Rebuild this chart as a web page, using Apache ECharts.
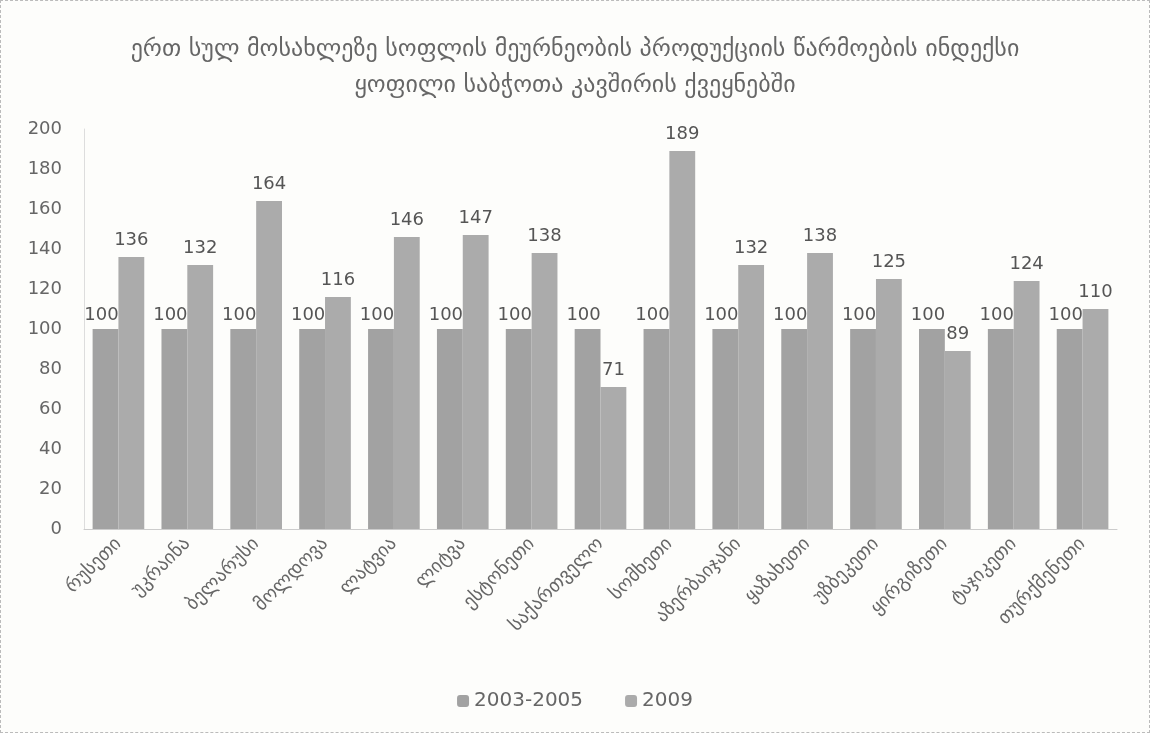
<!DOCTYPE html>
<html>
<head>
<meta charset="utf-8">
<script src="https://cdn.jsdelivr.net/npm/echarts@6/dist/echarts.min.js"></script>
<style>
  html, body { margin: 0; padding: 0; background: #fdfdfb; }
  #chart { width: 1150px; height: 733px; box-sizing: border-box; border: 1px dashed #bbb; }
</style>
</head>
<body>
<div id="chart"></div>
<script>
const countries = ['რუსეთი', 'უკრაინა', 'ბელარუსი', 'მოლდოვა', 'ლატვია', 'ლიტვა', 'ესტონეთი',
  'საქართველო', 'სომხეთი', 'აზერბაიჯანი', 'ყაზახეთი', 'უზბეკეთი', 'ყირგიზეთი', 'ტაჯიკეთი', 'თურქმენეთი'];
const base = [100, 100, 100, 100, 100, 100, 100, 100, 100, 100, 100, 100, 100, 100, 100];
const y2009 = [136, 132, 164, 116, 146, 147, 138, 71, 189, 132, 138, 125, 89, 124, 110];

const chart = echarts.init(document.getElementById('chart'));
const font = 'DejaVu Sans';

const option = {
  backgroundColor: '#fdfdfb',
  title: {
    text: 'ერთ სულ მოსახლეზე სოფლის მეურნეობის პროდუქციის წარმოების ინდექსი\nყოფილი საბჭოთა კავშირის ქვეყნებში',
    left: 'center',
    top: 26,
    textStyle: { color: '#666', fontSize: 24, fontWeight: 'normal', fontFamily: font, lineHeight: 36 }
  },
  legend: {
    bottom: 16,
    left: 'center',
    itemWidth: 12,
    itemHeight: 12,
    itemGap: 42,
    textStyle: { color: '#666', fontSize: 20, fontFamily: font },
    data: ['2003-2005', '2009']
  },
  grid: { left: 83, right: 32, top: 128, bottom: 203 },
  xAxis: {
    type: 'category',
    data: countries,
    axisLine: { lineStyle: { color: '#ccc' } },
    axisTick: { show: false },
    axisLabel: { rotate: 45, interval: 0, color: '#666', fontSize: 19, fontFamily: font, margin: 12 }
  },
  yAxis: {
    type: 'value',
    min: 0,
    max: 200,
    interval: 20,
    axisLine: { show: true, lineStyle: { color: '#ddd' } },
    splitLine: { show: false },
    axisLabel: { color: '#666', fontSize: 18, fontFamily: font, margin: 22 }
  },
  series: [
    {
      name: '2003-2005',
      type: 'bar',
      data: base,
      barGap: '0%',
      barCategoryGap: '25%',
      itemStyle: { color: '#a2a2a2' },
      label: { show: true, position: 'top', color: '#555', fontSize: 18, fontFamily: font, offset: [-4, 0] }
    },
    {
      name: '2009',
      type: 'bar',
      data: y2009,
      itemStyle: { color: '#ababab' },
      label: { show: true, position: 'top', color: '#555', fontSize: 18, fontFamily: font, distance: 8 }
    }
  ]
};

chart.setOption(option);
</script>
</body>
</html>
